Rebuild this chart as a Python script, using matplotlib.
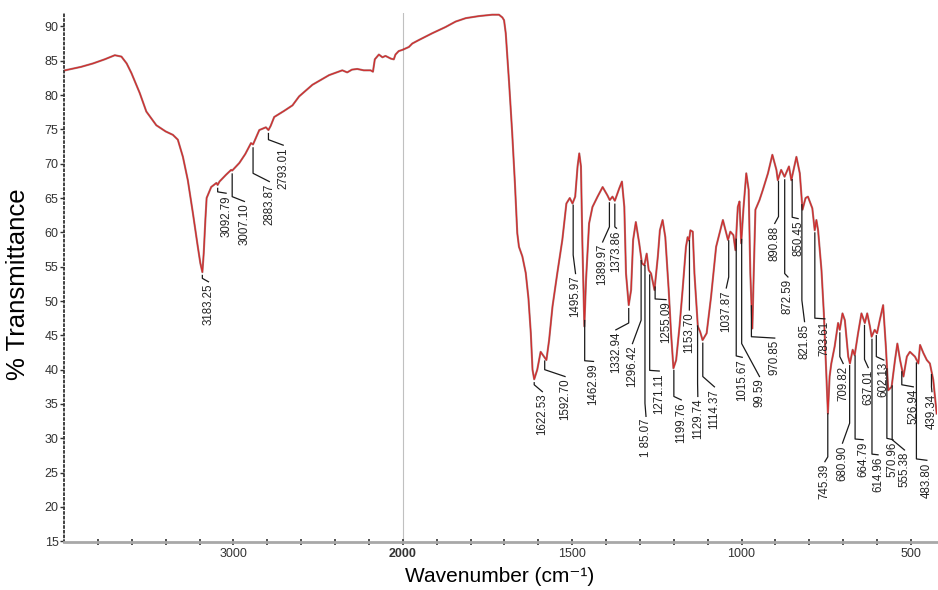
import numpy as np
import matplotlib
matplotlib.use('Agg')
import matplotlib.pyplot as plt

plt.rcParams['font.family'] = ['Liberation Sans', 'DejaVu Sans']

# spectrum (cm-1, % transmittance)
wavenumber = [3994, 3900, 3829, 3760, 3700, 3661, 3630, 3602, 3553, 3514, 3455, 3400,
              3357, 3328, 3298, 3269, 3239, 3210, 3195, 3183, 3175, 3165, 3158, 3131,
              3100, 3093, 3082, 3043, 3013, 3007, 2965, 2930, 2896, 2884, 2847, 2808,
              2793, 2780, 2759, 2700, 2651, 2612, 2533, 2435, 2357, 2328, 2300, 2269,
              2230, 2190, 2176, 2165, 2141, 2120, 2102, 2070, 2053, 2043, 2024, 2000,
              1982, 1972, 1953, 1913, 1874, 1844, 1814, 1775, 1736, 1716, 1706, 1701,
              1696, 1686, 1677, 1669, 1662, 1657, 1647, 1637, 1629, 1622, 1617, 1612,
              1603, 1593, 1583, 1576, 1568, 1558, 1544, 1529, 1517, 1507, 1499, 1491,
              1484, 1479, 1474, 1470, 1464, 1459, 1450, 1440, 1425, 1410, 1396, 1389,
              1381, 1374, 1361, 1353, 1346, 1341, 1333, 1326, 1320, 1312, 1302, 1294,
              1287, 1280, 1274, 1267, 1257, 1247, 1241, 1233, 1225, 1215, 1208, 1201,
              1193, 1183, 1174, 1164, 1159, 1155, 1151, 1144, 1139, 1129, 1122, 1115,
              1103, 1090, 1075, 1055, 1040, 1033, 1024, 1018, 1011, 1006, 1001, 994,
              986, 979, 974, 968, 964, 959, 947, 937, 922, 909, 897, 893,
              883, 873, 860, 853, 838, 828, 820, 811, 804, 791, 784, 779,
              774, 764, 757, 751, 745, 740, 735, 725, 715, 710, 702, 695,
              685, 680, 672, 666, 656, 646, 636, 629, 621, 616, 607, 600,
              592, 582, 574, 567, 557, 547, 540, 532, 522, 512, 503, 488,
              478, 473, 463, 453, 444, 434, 424]
transmittance = [83.6, 84.1, 84.6, 85.2, 85.8, 85.6, 84.6, 83.2, 80.3, 77.6, 75.6, 74.7,
                 74.2, 73.5, 71.0, 67.6, 62.8, 57.9, 55.5, 54.2, 57.0, 62.0, 65.0, 66.6,
                 67.2, 66.9, 67.4, 68.4, 69.1, 69.0, 70.1, 71.4, 73.0, 72.8, 74.9, 75.3,
                 74.9, 75.5, 76.8, 77.7, 78.5, 79.8, 81.5, 82.9, 83.6, 83.3, 83.7, 83.8,
                 83.6, 83.6, 83.4, 85.2, 85.9, 85.5, 85.7, 85.3, 85.2, 85.9, 86.4, 86.6,
                 87.0, 87.5, 88.0, 89.0, 89.9, 90.7, 91.2, 91.5, 91.7, 91.7, 91.3, 90.9,
                 89.0, 81.7, 74.5, 67.2, 59.9, 57.9, 56.5, 54.1, 50.4, 45.3, 40.0, 38.6,
                 40.0, 42.6, 41.9, 41.4, 44.3, 49.2, 54.0, 58.9, 64.2, 65.0, 64.2, 65.2,
                 69.6, 71.5, 69.6, 58.9, 46.3, 53.1, 61.3, 63.7, 65.2, 66.6, 65.4, 64.7,
                 65.2, 64.6, 66.4, 67.4, 63.7, 54.0, 49.4, 51.6, 58.9, 61.5, 58.4, 55.5,
                 55.2, 56.9, 54.5, 54.0, 51.6, 56.5, 60.3, 61.8, 59.3, 51.6, 45.3, 40.2,
                 41.4, 46.3, 51.6, 57.9, 59.3, 58.8, 60.3, 60.1, 54.0, 46.3, 45.5, 44.3,
                 45.3, 50.6, 57.9, 61.8, 58.9, 60.1, 59.6, 57.4, 63.7, 64.5, 58.4, 63.7,
                 68.6, 66.2, 54.0, 46.0, 54.0, 63.3, 64.7, 66.2, 68.6, 71.3, 69.1, 67.6,
                 69.1, 68.1, 69.6, 67.6, 71.0, 68.6, 63.3, 65.0, 65.2, 63.5, 60.3, 61.8,
                 60.3, 54.5, 48.2, 40.9, 33.6, 39.0, 40.9, 43.4, 46.8, 45.8, 48.2, 47.2,
                 41.9, 40.9, 42.9, 42.1, 45.3, 48.2, 46.8, 48.2, 46.3, 44.8, 45.8, 45.3,
                 47.2, 49.4, 43.4, 37.0, 37.5, 41.4, 43.8, 41.4, 39.0, 41.9, 42.6, 41.9,
                 40.9, 43.6, 42.4, 41.4, 40.9, 38.5, 33.6]

# peak annotations: label, where the leader starts, where it bends,
# and where the rotated text sits
peak_labels = ['3183.25', '3092.79', '3007.10', '2883.87', '2793.01',
               '1622.53', '1592.70', '1495.97', '1462.99', '1389.97', '1373.86',
               '1332.94', '1296.42', '1 85.07', '1271.11', '1255.09', '1199.76',
               '1153.70', '1129.74', '1114.37', '1037.87', '1015.67', '99.59',
               '970.85', '890.88', '872.59', '850.45', '821.85', '783.61', '745.39',
               '709.82', '680.90', '664.79', '637.01', '614.96', '602.13', '570.96',
               '555.38', '526.94', '483.80', '439.34']
peak_pos = [3183.25, 3092.79, 3007.10, 2883.87, 2793.01,
            1612, 1581, 1497, 1463, 1390, 1374,
            1333, 1296.42, 1285.07, 1271.11, 1255.09, 1199.76,
            1153.70, 1129.74, 1114.37, 1037.87, 1015.67, 999.59,
            970.85, 890.88, 872.59, 850.45, 821.85, 783.61, 745.39,
            709.82, 680.90, 664.79, 637.01, 614.96, 602.13, 570.96,
            555.38, 526.94, 483.80, 439.34]
kink_t = [53.3, 65.9, 65.2, 68.6, 73.5,
          37.8, 40.0, 56.7, 41.3, 60.8, 60.8,
          46.8, 47.2, 35.1, 39.9, 50.3, 36.1,
          51.1, 38.0, 39.0, 53.5, 42.0, 43.8,
          44.8, 62.3, 54.0, 62.2, 50.1, 47.5, 27.3,
          41.9, 32.2, 29.9, 41.5, 27.7, 41.9, 30.0,
          29.8, 37.8, 27.0, 37.5]
text_wn = [3147, 3043, 2935, 2788, 2706,
           1588, 1521, 1490, 1437, 1410, 1369,
           1371, 1322, 1282, 1243, 1223, 1178,
           1154, 1129, 1080, 1045, 998, 947,
           902, 902, 863, 833, 814, 754, 754,
           700, 702, 641, 626, 597, 580, 553,
           519, 493, 453, 438]
text_t = [52.8, 65.7, 64.5, 67.4, 72.7,
          36.8, 39.0, 54.0, 41.2, 58.6, 60.6,
          45.8, 43.8, 33.2, 39.8, 50.2, 35.6,
          48.7, 36.1, 37.5, 51.9, 41.8, 39.0,
          44.6, 61.3, 53.5, 62.0, 47.0, 47.4, 26.6,
          40.9, 29.3, 29.8, 40.3, 27.6, 41.4, 29.8,
          28.3, 37.5, 26.8, 36.8]

major_ticks = [3000, 2000, 1500, 1000, 500]
minor_ticks = list(range(3800, 2000, -200)) + list(range(1900, 400, -100))


def fwd(x):
    # left of 2000 cm-1 is drawn at half scale
    x = np.asarray(x, dtype=float)
    return np.where(x >= 2000, 2000 + (x - 2000) / 2, x)


def inv(u):
    u = np.asarray(u, dtype=float)
    return np.where(u >= 2000, 2000 + (u - 2000) * 2, u)


fig = plt.figure(figsize=(9.38, 5.9), dpi=100)
ax = fig.add_axes([64 / 938, 1 - 542 / 590, 873 / 938, 529 / 590])
ax.set_xscale('function', functions=(fwd, inv))
ax.set_xlim(4000, 423)
ax.set_ylim(14.9, 91.95)

ax.axvline(2000, color='#c0c0c0', lw=0.8, zorder=1)
ax.plot(wavenumber, transmittance, color='#6a1010', lw=1.5, alpha=0.55, zorder=2)
ax.plot(wavenumber, transmittance, color='#d42a2a', lw=0.8, zorder=3)

wn_asc = np.array(wavenumber)[::-1]
t_asc = np.array(transmittance)[::-1]
for lab, p, k, tw, tt in zip(peak_labels, peak_pos, kink_t, text_wn, text_t):
    start = np.interp(p, wn_asc, t_asc) - 0.5
    ax.plot([p, p, tw], [start, k, tt], color='#1a1a1a', lw=0.9, zorder=4, clip_on=False)
    ax.text(tw, tt - 0.3, lab, rotation=90, ha='center', va='top', fontsize=8.3,
            color='#222222', clip_on=False)

for s in ['top', 'right']:
    ax.spines[s].set_visible(False)
ax.spines['bottom'].set_color('#a8a8a8')
ax.spines['bottom'].set_linewidth(2)
ax.spines['left'].set_linestyle((0, (1, 1.6)))
ax.spines['left'].set_linewidth(1.3)
ax.spines['left'].set_color('#333333')

ax.set_xticks(major_ticks, labels=[str(t) for t in major_ticks])
ax.set_xticks(minor_ticks, minor=True)
ax.get_xticklabels()[1].set_fontweight('bold')
ax.tick_params(axis='x', which='both', direction='inout', length=4, width=1.2,
               color='#333333', labelsize=9, labelcolor='#333333', pad=2)
ax.tick_params(axis='x', which='major', length=5)
ax.set_yticks(range(15, 95, 5))
ax.tick_params(axis='y', direction='out', length=3, width=1, color='#333333',
               labelsize=9, labelcolor='#333333', pad=1)

fig.text(0.533, 0.006, 'Wavenumber (cm\u207b\u00b9)', ha='center', va='bottom', fontsize=15)
fig.text(0.019, 0.518, '% Transmittance', ha='center', va='center', rotation=90, fontsize=18.5)

fig.savefig('out.png', dpi=100)
